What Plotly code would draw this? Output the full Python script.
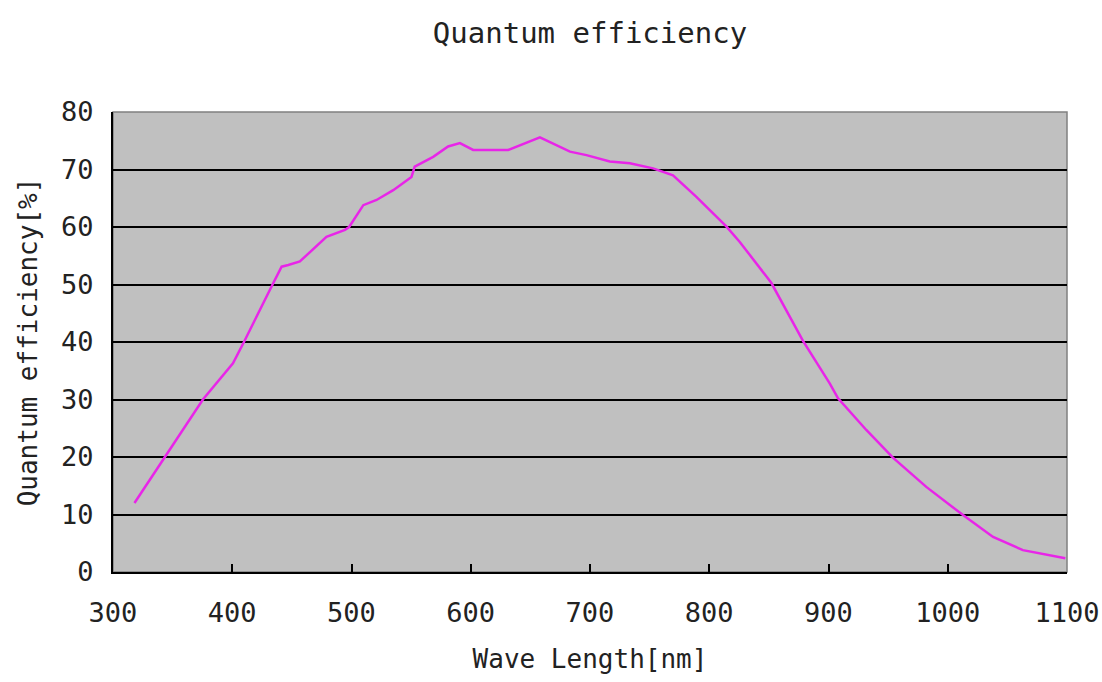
import plotly.graph_objects as go

wavelength = [318, 343.6, 375.4, 400.6, 409.8, 433.8, 441.4, 447, 456.7, 479, 494.5, 498, 509.9, 521, 535,
              550.3, 553, 568.5, 581, 590.9, 602, 631.4, 658, 683.2, 697, 716.6, 733.4, 752.9, 769.6, 789,
              814.3, 825.6, 852, 878.6, 901, 908, 931.7, 954, 982, 1012.8, 1038, 1063, 1080, 1098.6]
efficiency = [12, 20, 30, 36.3, 40, 50, 53.1, 53.4, 54.0, 58.3, 59.5, 60, 63.8, 64.7, 66.4,
              68.7, 70.5, 72.2, 74.0, 74.6, 73.4, 73.4, 75.6, 73.1, 72.5, 71.4, 71.1, 70.2, 69.0, 65.3,
              60.1, 57.4, 50.3, 40.2, 32.8, 30.2, 24.7, 19.9, 14.8, 9.9, 6.1, 3.8, 3.1, 2.4]
x_ticks = [300, 400, 500, 600, 700, 800, 900, 1000, 1100]
y_ticks = [0, 10, 20, 30, 40, 50, 60, 70, 80]

FONT = "DejaVu Sans Mono"

fig = go.Figure()
fig.add_trace(go.Scatter(x=wavelength, y=efficiency, mode="lines",
                         line=dict(color="#e825e8", width=2.5), showlegend=False))

fig.update_layout(
    width=1102, height=682,
    margin=dict(l=113, r=35, t=112, b=110),
    paper_bgcolor="white", plot_bgcolor="#c0c0c0",
    title=dict(text="Quantum efficiency", x=(113 + 1067) / 2 / 1102, xanchor="center",
               y=1 - 33 / 682, yanchor="middle",
               font=dict(family=FONT, size=29, color="#222")),
    font=dict(family=FONT, color="#222"),
)
fig.update_xaxes(range=[300, 1100], tickvals=x_ticks, ticks="inside", ticklen=8, tickwidth=1.5,
                 tickcolor="black", showgrid=False, showline=True, linecolor="black", linewidth=2,
                 tickfont=dict(size=27), ticklabelstandoff=16, zeroline=False, automargin=False,
                 title=dict(text="Wave Length[nm]", font=dict(size=26), standoff=22))
fig.update_yaxes(range=[0, 80], tickvals=y_ticks, ticks="inside", ticklen=6, tickcolor="black",
                 showgrid=True, gridcolor="black", gridwidth=1.8, showline=True, linecolor="black",
                 linewidth=2, tickfont=dict(size=27), ticklabelstandoff=12, zeroline=False, automargin=False,
                 title=dict(text="Quantum efficiency[%]", font=dict(size=26), standoff=16))
fig.add_shape(type="rect", xref="paper", yref="paper", x0=0, x1=1, y0=0, y1=1,
              line=dict(color="#808080", width=1.5), layer="below")

fig.write_html(
    "out.html",
    config={"displayModeBar": False},
    post_script=("document.body.style.margin='0';"
                 "document.body.style.overflow='hidden';"
                 "document.documentElement.style.overflow='hidden';"),
)
